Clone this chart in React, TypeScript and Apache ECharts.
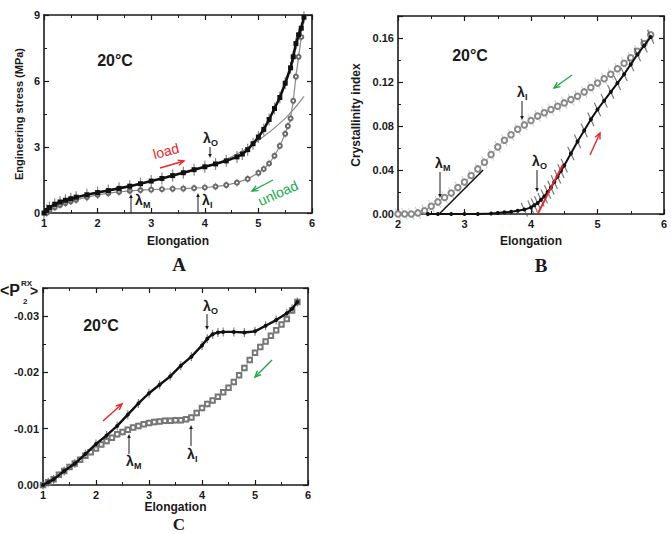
import React, { useEffect, useRef } from "react";
import * as echarts from "echarts";

// ---------- Panel A: engineering stress (MPa) vs elongation ----------
const aLoadX = [1.0, 1.05, 1.1, 1.2, 1.3, 1.4, 1.5, 1.6, 1.8, 2.0, 2.2, 2.4, 2.6, 2.8, 3.0, 3.2, 3.4, 3.6, 3.8, 4.0, 4.2, 4.4, 4.6, 4.7, 4.8, 4.9, 5.0, 5.1, 5.2, 5.3, 5.4, 5.5, 5.6, 5.65, 5.7, 5.75, 5.8, 5.85];
const aLoadY = [0, 0.12, 0.25, 0.4, 0.5, 0.58, 0.65, 0.72, 0.83, 0.93, 1.02, 1.12, 1.22, 1.33, 1.45, 1.57, 1.7, 1.83, 1.97, 2.1, 2.23, 2.37, 2.55, 2.68, 2.88, 3.15, 3.45, 3.8, 4.25, 4.75, 5.25, 5.9, 6.6, 7.1, 7.7, 8.1, 8.4, 8.9];
const aUnloadX = [1.05, 1.1, 1.2, 1.3, 1.4, 1.5, 1.6, 1.8, 2.0, 2.2, 2.4, 2.6, 2.8, 3.0, 3.2, 3.4, 3.6, 3.8, 4.0, 4.2, 4.4, 4.6, 4.8, 5.0, 5.1, 5.2, 5.3, 5.4, 5.5, 5.55, 5.6, 5.65, 5.7, 5.75, 5.8];
const aUnloadY = [0, 0.1, 0.25, 0.36, 0.45, 0.53, 0.6, 0.72, 0.82, 0.9, 0.96, 1.01, 1.04, 1.06, 1.08, 1.1, 1.11, 1.13, 1.16, 1.2, 1.27, 1.38, 1.55, 1.82, 2.0, 2.25, 2.6, 3.05, 3.6, 3.95, 4.3, 5.1, 6.2, 7.1, 8.0];
const aFitX = [1.0, 1.2, 1.5, 2.0, 2.5, 3.0, 3.5, 4.0, 4.5, 5.0, 5.5, 5.85];
const aFitY = [0, 0.42, 0.66, 0.95, 1.2, 1.45, 1.75, 2.08, 2.55, 3.3, 4.3, 5.3];

// ---------- Panel B: crystallinity index vs elongation ----------
const bLoadX = [2.45, 2.6, 2.8, 3.0, 3.2, 3.4, 3.5, 3.6, 3.7, 3.8, 3.9, 4.0, 4.05, 4.1, 4.15, 4.2, 4.25, 4.3, 4.35, 4.4, 4.45, 4.5, 4.6, 4.7, 4.8, 4.9, 5.0, 5.1, 5.2, 5.3, 5.4, 5.5, 5.6, 5.7, 5.8];
const bLoadY = [0, 0, 0, 0, 0, 0.0005, 0.001, 0.0015, 0.002, 0.003, 0.004, 0.006, 0.008, 0.01, 0.013, 0.016, 0.02, 0.024, 0.029, 0.034, 0.039, 0.044, 0.055, 0.066, 0.076, 0.086, 0.095, 0.103, 0.111, 0.119, 0.127, 0.136, 0.145, 0.153, 0.161];
const bUnloadX = [2.0, 2.1, 2.2, 2.3, 2.4, 2.5, 2.6, 2.7, 2.8, 2.9, 3.0, 3.1, 3.2, 3.3, 3.4, 3.5, 3.6, 3.7, 3.8, 3.9, 4.0, 4.1, 4.2, 4.3, 4.4, 4.5, 4.6, 4.7, 4.8, 4.9, 5.0, 5.1, 5.2, 5.3, 5.4, 5.5, 5.6, 5.7, 5.8];
const bUnloadY = [0, 0, 0, 0.001, 0.003, 0.007, 0.011, 0.015, 0.019, 0.024, 0.029, 0.035, 0.041, 0.047, 0.054, 0.061, 0.067, 0.072, 0.077, 0.081, 0.085, 0.089, 0.092, 0.095, 0.098, 0.101, 0.104, 0.107, 0.111, 0.115, 0.119, 0.123, 0.127, 0.132, 0.137, 0.142, 0.148, 0.155, 0.163];
const bFitMX = [2.62, 3.28];
const bFitMY = [0, 0.04];
const bFitOX = [4.1, 4.48];
const bFitOY = [0, 0.045];

// ---------- Panel C: <P2RX> vs elongation ----------
const cLoadX = [1.0, 1.1, 1.2, 1.4, 1.6, 1.8, 2.0, 2.2, 2.4, 2.6, 2.8, 3.0, 3.2, 3.4, 3.6, 3.8, 4.0, 4.1, 4.2, 4.3, 4.4, 4.6, 4.8, 5.0, 5.2, 5.4, 5.6, 5.7, 5.8];
const cLoadY = [0, -0.0005, -0.001, -0.0025, -0.0038, -0.0055, -0.0073, -0.0088, -0.0105, -0.0125, -0.0145, -0.0163, -0.0178, -0.0193, -0.0212, -0.0228, -0.0248, -0.026, -0.0268, -0.0271, -0.0272, -0.0272, -0.0271, -0.0273, -0.0283, -0.0293, -0.0305, -0.0313, -0.0325];
const cUnloadX = [1.0, 1.1, 1.2, 1.3, 1.4, 1.5, 1.6, 1.7, 1.8, 1.9, 2.0, 2.1, 2.2, 2.3, 2.4, 2.5, 2.6, 2.7, 2.8, 2.9, 3.0, 3.1, 3.2, 3.3, 3.4, 3.5, 3.6, 3.7, 3.8, 3.9, 4.0, 4.1, 4.2, 4.3, 4.4, 4.5, 4.6, 4.7, 4.8, 4.9, 5.0, 5.1, 5.2, 5.3, 5.4, 5.5, 5.6, 5.7, 5.8];
const cUnloadY = [0, -0.0005, -0.001, -0.0018, -0.0025, -0.0032, -0.0038, -0.0045, -0.0052, -0.0058, -0.0065, -0.0072, -0.0078, -0.0084, -0.009, -0.0094, -0.0098, -0.0102, -0.0105, -0.0108, -0.011, -0.0112, -0.0113, -0.0114, -0.0114, -0.0115, -0.0115, -0.0117, -0.012, -0.0128, -0.0137, -0.0144, -0.015, -0.0157, -0.0165, -0.0173, -0.0183, -0.0195, -0.0208, -0.0222, -0.0235, -0.0245, -0.0255, -0.0265, -0.0275, -0.0285, -0.0295, -0.031, -0.0325];

const xTitle = "Elongation";
const aYTitle = "Engineering stress (MPa)";
const bYTitle = "Crystallinity index";
const tempLabel = "20°C";
const panelLabels = ["A", "B", "C"];

const FONT = "'Liberation Sans', Arial, Helvetica, sans-serif";
const SERIF = "'Liberation Serif', 'Times New Roman', serif";
const INK = "#1a1a1a";

const pairs = (xs: number[], ys: number[]) => xs.map((x, i) => [x, ys[i]]);

const tickCommon = {
  axisLine: { show: true, onZero: false, lineStyle: { color: INK, width: 1.6 } },
  axisTick: { show: true, inside: true, length: 5, lineStyle: { color: INK, width: 1.2 } },
  minorTick: { show: true, splitNumber: 2, length: 3, lineStyle: { color: INK, width: 1 } },
  splitLine: { show: false },
  minorSplitLine: { show: false },
};

const labelStyle = { fontFamily: FONT, fontWeight: "bold", fontSize: 11, color: INK };

function xAxes(grid: number, min: number, max: number, nameGap: number) {
  return [
    {
      type: "value", gridIndex: grid, position: "bottom", min, max, interval: 1,
      ...tickCommon,
      axisLabel: { ...labelStyle, margin: 4 },
      name: xTitle, nameLocation: "middle", nameGap,
      nameTextStyle: { fontFamily: FONT, fontWeight: "bold", fontSize: 12, color: INK },
    },
    {
      type: "value", gridIndex: grid, position: "top", min, max, interval: 1,
      ...tickCommon, axisLabel: { show: false },
    },
  ];
}

function arrow(x1: number, y1: number, x2: number, y2: number, color: string, w: number, h: number, open = false) {
  const ang = Math.atan2(y2 - y1, x2 - x1);
  const bx = x2 - h * Math.cos(ang);
  const by = y2 - h * Math.sin(ang);
  const px = -Math.sin(ang) * h * 0.45;
  const py = Math.cos(ang) * h * 0.45;
  const els: any[] = [
    { type: "line", shape: { x1, y1, x2: open ? x2 : bx, y2: open ? y2 : by }, style: { stroke: color, lineWidth: w }, z: 100 },
  ];
  if (open) {
    els.push({ type: "polyline", shape: { points: [[bx + px, by + py], [x2, y2], [bx - px, by - py]] }, style: { stroke: color, lineWidth: w, fill: null }, z: 100 });
  } else {
    els.push({ type: "polygon", shape: { points: [[bx + px, by + py], [x2, y2], [bx - px, by - py]] }, style: { fill: color }, z: 100 });
  }
  return els;
}

function lam(x: number, y: number, sub: string) {
  return [
    { type: "text", x, y, style: { text: "λ", font: `bold 14px ${FONT}`, fill: INK, align: "left", verticalAlign: "middle" }, z: 100 },
    { type: "text", x: x + 8, y: y + 5, style: { text: sub, font: `bold 9px ${FONT}`, fill: INK, align: "left", verticalAlign: "middle" }, z: 100 },
  ];
}

function txt(x: number, y: number, text: string, font: string, fill = INK, rotation = 0, align = "center") {
  return { type: "text", x, y, rotation, style: { text, font, fill, align, verticalAlign: "middle" }, z: 100 };
}

export default function App() {
  const ref = useRef<HTMLDivElement>(null);
  useEffect(() => {
    if (!ref.current) return;
    const chart = echarts.init(ref.current, null, { renderer: "svg" });
    const RED = "#e8262a";
    const GREEN = "#20a84a";
    const bLoadErr = pairs(bLoadX, bLoadY).filter((p) => p[0] >= 3.85);

    const option: any = {
      animation: false,
      backgroundColor: "#ffffff",
      grid: [
        { left: 44, top: 15, width: 268, height: 198 },
        { left: 398, top: 16, width: 266, height: 198 },
        { left: 43, top: 288, width: 265, height: 197 },
      ],
      xAxis: [...xAxes(0, 1, 6, 22), ...xAxes(1, 2, 6, 21), ...xAxes(2, 1, 6, 14)],
      yAxis: [
        {
          type: "value", gridIndex: 0, position: "left", min: 0, max: 9, interval: 3,
          ...tickCommon, axisLabel: { ...labelStyle, margin: 4 },
          name: aYTitle, nameLocation: "middle", nameGap: 20,
          nameTextStyle: { fontFamily: FONT, fontWeight: "bold", fontSize: 11, color: INK },
        },
        { type: "value", gridIndex: 0, position: "right", min: 0, max: 9, interval: 3, ...tickCommon, axisLabel: { show: false } },
        {
          type: "value", gridIndex: 1, position: "left", min: 0, max: 0.18, interval: 0.04,
          ...tickCommon,
          axisLabel: { ...labelStyle, margin: 4, showMaxLabel: false, formatter: (v: number) => v.toFixed(2) },
          name: bYTitle, nameLocation: "middle", nameGap: 36,
          nameTextStyle: { fontFamily: FONT, fontWeight: "bold", fontSize: 12, color: INK },
        },
        { type: "value", gridIndex: 1, position: "right", min: 0, max: 0.18, interval: 0.04, ...tickCommon, axisLabel: { show: false } },
        {
          type: "value", gridIndex: 2, position: "left", min: -0.035, max: 0, splitNumber: 4, inverse: true,
          ...tickCommon,
          axisLabel: { ...labelStyle, margin: 4, showMinLabel: false, formatter: (v: number) => (Math.abs(v) < 1e-9 ? "0.00" : v.toFixed(2)) },
        },
        { type: "value", gridIndex: 2, position: "right", min: -0.035, max: 0, splitNumber: 4, inverse: true, ...tickCommon, axisLabel: { show: false } },
      ],
      series: [
        // ---- A ----
        { type: "line", xAxisIndex: 0, yAxisIndex: 0, data: pairs(aFitX, aFitY), symbol: "none", smooth: true, lineStyle: { color: "#8c8c8c", width: 1.2 }, z: 1 },
        { type: "scatter", xAxisIndex: 0, yAxisIndex: 0, data: pairs(aUnloadX, aUnloadY), symbol: "rect", symbolSize: [1, 8], itemStyle: { color: "#9a9a9a" }, z: 2 },
        { type: "line", xAxisIndex: 0, yAxisIndex: 0, data: pairs(aUnloadX, aUnloadY), symbol: "emptyCircle", symbolSize: 4, itemStyle: { color: "#6a6a6a", borderWidth: 1 }, lineStyle: { color: "#8a8a8a", width: 1.2 }, z: 3 },
        { type: "scatter", xAxisIndex: 0, yAxisIndex: 0, data: pairs(aLoadX, aLoadY), symbol: "rect", symbolSize: [1.2, 12], itemStyle: { color: "#666" }, z: 4 },
        { type: "line", xAxisIndex: 0, yAxisIndex: 0, data: pairs(aLoadX, aLoadY), symbol: "rect", symbolSize: 5, itemStyle: { color: "#111" }, lineStyle: { color: "#111", width: 2.6 }, z: 5 },
        // ---- B ----
        { type: "scatter", xAxisIndex: 2, yAxisIndex: 2, data: pairs(bUnloadX, bUnloadY), symbol: "rect", symbolSize: [1, 13], symbolRotate: 25, itemStyle: { color: "#bdbdbd" }, z: 2 },
        { type: "line", xAxisIndex: 2, yAxisIndex: 2, data: pairs(bUnloadX, bUnloadY), symbol: "emptyCircle", symbolSize: 5.5, itemStyle: { color: "#8a8a8a", borderWidth: 1 }, lineStyle: { color: "#a8a8a8", width: 1 }, z: 3 },
        { type: "scatter", xAxisIndex: 2, yAxisIndex: 2, data: bLoadErr, symbol: "rect", symbolSize: [1.2, 15], symbolRotate: 25, itemStyle: { color: "#555" }, z: 4 },
        { type: "line", xAxisIndex: 2, yAxisIndex: 2, data: pairs(bLoadX, bLoadY), symbol: "circle", symbolSize: 4, itemStyle: { color: "#111" }, lineStyle: { color: "#111", width: 2 }, z: 5 },
        { type: "line", xAxisIndex: 2, yAxisIndex: 2, data: pairs(bFitMX, bFitMY), symbol: "none", lineStyle: { color: "#111", width: 1.5 }, z: 6 },
        { type: "line", xAxisIndex: 2, yAxisIndex: 2, data: pairs(bFitOX, bFitOY), symbol: "none", lineStyle: { color: RED, width: 1.8 }, z: 6 },
        // ---- C ----
        { type: "scatter", xAxisIndex: 4, yAxisIndex: 4, data: pairs(cUnloadX, cUnloadY), symbol: "rect", symbolSize: [1, 7], itemStyle: { color: "#a5a5a5" }, z: 2 },
        { type: "line", xAxisIndex: 4, yAxisIndex: 4, data: pairs(cUnloadX, cUnloadY), symbol: "emptyRect", symbolSize: 4.5, itemStyle: { color: "#777", borderWidth: 1 }, lineStyle: { color: "#999", width: 0.8 }, z: 3 },
        { type: "scatter", xAxisIndex: 4, yAxisIndex: 4, data: pairs(cLoadX, cLoadY), symbol: "rect", symbolSize: [1.2, 9], itemStyle: { color: "#666" }, z: 4 },
        { type: "line", xAxisIndex: 4, yAxisIndex: 4, data: pairs(cLoadX, cLoadY), symbol: "circle", symbolSize: 4, itemStyle: { color: "#111" }, lineStyle: { color: "#111", width: 2.4 }, z: 5 },
      ],
      graphic: [
        // Panel A annotations
        txt(115, 60, tempLabel, `bold 16px ${FONT}`),
        ...lam(203, 138, "O"),
        ...arrow(210, 147, 210, 158, INK, 1, 4),
        txt(166, 151, "load", `14px ${FONT}`, RED, 0.26),
        ...arrow(160, 168, 184, 161, RED, 1.4, 6, true),
        txt(278, 193, "unload", `14px ${FONT}`, GREEN, 0.42),
        ...arrow(273, 180, 252, 191, GREEN, 1.4, 6, true),
        ...arrow(131, 213, 131, 194, INK, 1, 4),
        ...lam(135, 200, "M"),
        ...arrow(198, 212, 198, 193, INK, 1, 4),
        ...lam(202, 200, "I"),
        // Panel B annotations
        txt(470, 55, tempLabel, `bold 16px ${FONT}`),
        ...lam(517, 92, "I"),
        ...arrow(522, 101, 522, 120, INK, 1, 4),
        ...lam(435, 163, "M"),
        ...arrow(440, 172, 440, 198, INK, 1, 4),
        ...lam(532, 161, "O"),
        ...arrow(537, 170, 537, 192, INK, 1, 4),
        ...arrow(572, 75, 554, 88, GREEN, 1.4, 6, true),
        ...arrow(590, 155, 600, 133, RED, 1.4, 6, true),
        // Panel C annotations
        txt(101, 325, tempLabel, `bold 16px ${FONT}`),
        ...lam(203, 306, "O"),
        ...arrow(207, 314, 207, 330, INK, 1, 4),
        ...arrow(129, 454, 129, 434, INK, 1, 4),
        ...lam(126, 461, "M"),
        ...arrow(191, 446, 191, 425, INK, 1, 4),
        ...lam(187, 454, "I"),
        ...arrow(103, 421, 122, 404, RED, 1.4, 6, true),
        ...arrow(272, 360, 255, 377, GREEN, 1.4, 6, true),
        // Panel C y title  <P2^RX>
        txt(0, 290, "<P", `bold 16px ${FONT}`, INK, 0, "left"),
        txt(21, 283, "RX", `bold 8px ${FONT}`, INK, 0, "left"),
        txt(23, 301, "2", `bold 8px ${FONT}`, INK, 0, "left"),
        txt(30, 291, ">", `bold 14px ${FONT}`, INK, 0, "left"),
        // panel letters
        txt(179, 264, panelLabels[0], `bold 19px ${SERIF}`),
        txt(541, 265, panelLabels[1], `bold 19px ${SERIF}`),
        txt(179, 524, panelLabels[2], `bold 17px ${SERIF}`),
      ],
    };
    chart.setOption(option);
    return () => chart.dispose();
  }, []);
  return <div ref={ref} style={{ position: "absolute", left: 0, top: 0, width: 671, height: 534, background: "#fff" }} />;
}
